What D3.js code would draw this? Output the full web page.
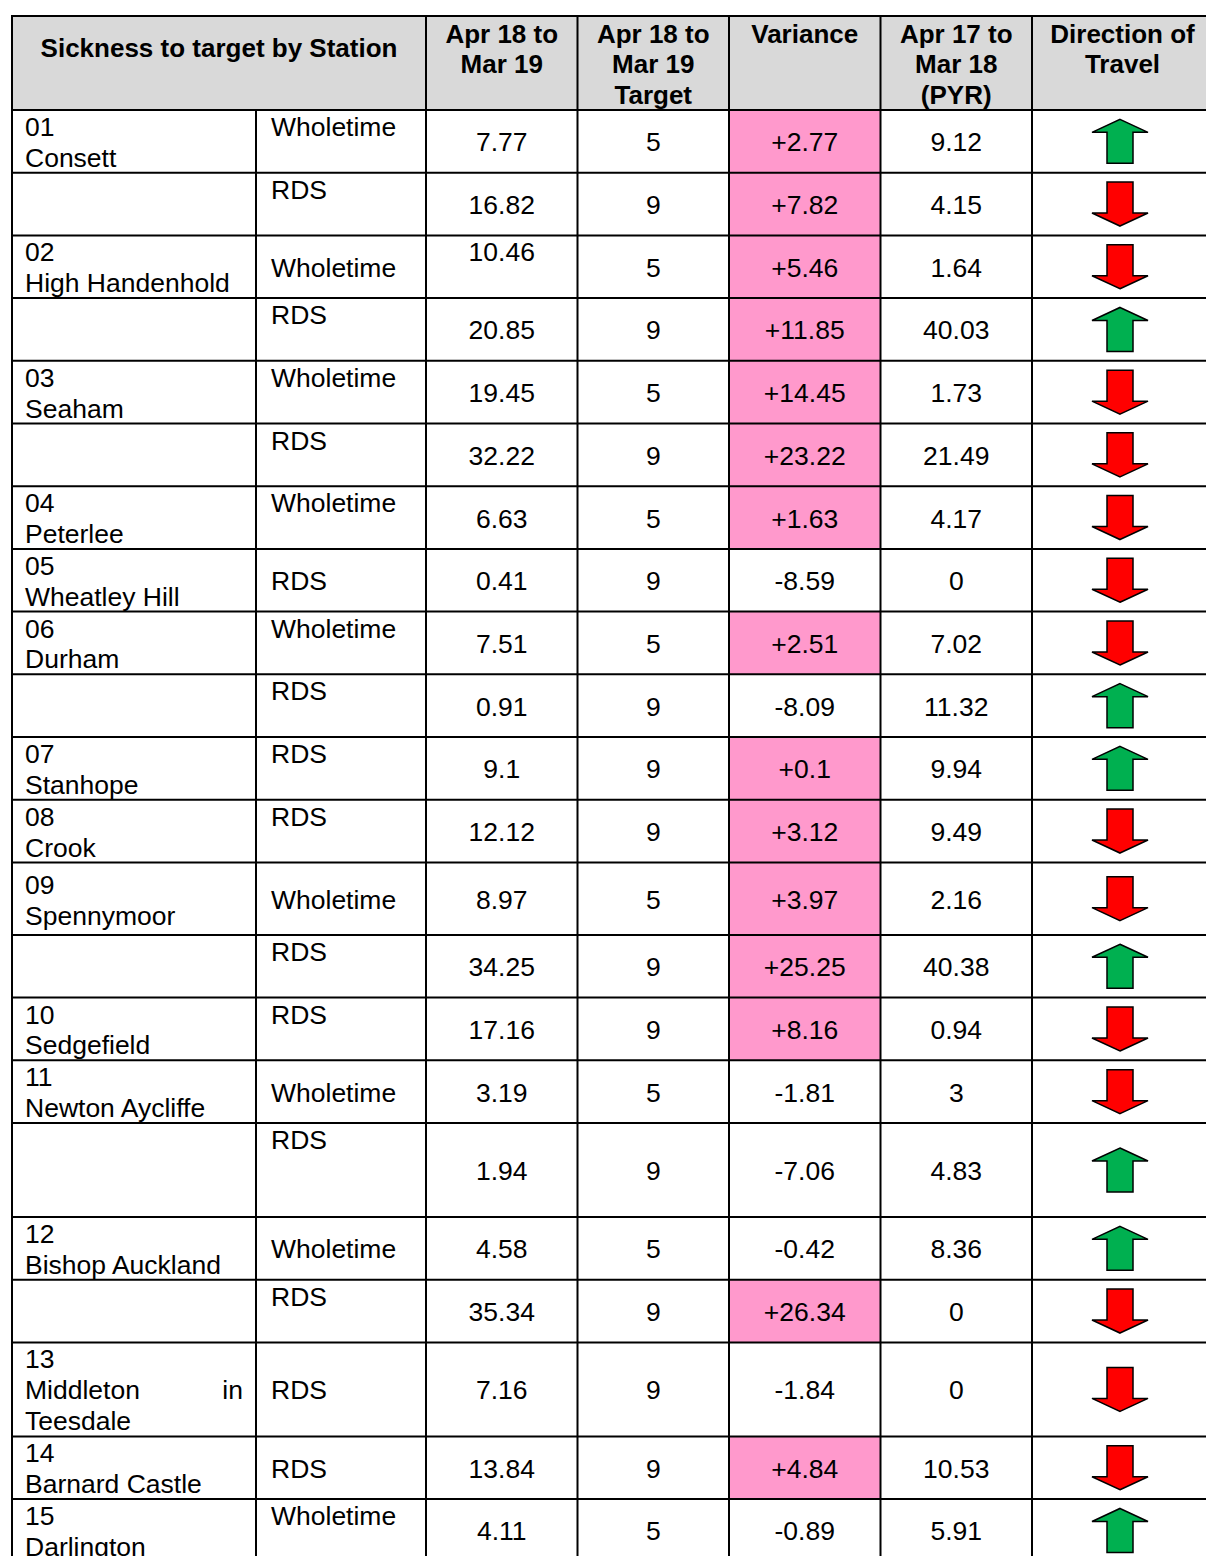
<!DOCTYPE html>
<html lang="en">
<head>
<meta charset="UTF-8">
<title>Sickness to target by Station</title>
<script src="https://d3js.org/d3.v7.min.js"></script>
<style>
  body { margin: 0; background: #fff; }
  svg text { font-family: "Liberation Sans", Arial, sans-serif; fill: #000; }
  .head { font-weight: bold; font-size: 26px; }
  .cell { font-size: 26.5px; }
</style>
</head>
<body>
<svg id="tbl" width="1206" height="1556"></svg>
<script>
// one entry per table row
const stationNo = ["01","","02","","03","","04","05","06","","07","08","09","","10","11","","12","","13","14","15"];
const stationName = ["Consett","","High Handenhold","","Seaham","","Peterlee","Wheatley Hill","Durham","",
  "Stanhope","Crook","Spennymoor","","Sedgefield","Newton Aycliffe","","Bishop Auckland","",
  "Middleton in Teesdale","Barnard Castle","Darlington"];
const dutyType = ["Wholetime","RDS","Wholetime","RDS","Wholetime","RDS","Wholetime","RDS","Wholetime","RDS",
  "RDS","RDS","Wholetime","RDS","RDS","Wholetime","RDS","Wholetime","RDS","RDS","RDS","Wholetime"];
const actual = [7.77,16.82,10.46,20.85,19.45,32.22,6.63,0.41,7.51,0.91,9.1,12.12,8.97,34.25,17.16,3.19,1.94,4.58,35.34,7.16,13.84,4.11];
const target = [5,9,5,9,5,9,5,9,5,9,9,9,5,9,9,5,9,5,9,9,9,5];
const variance = [2.77,7.82,5.46,11.85,14.45,23.22,1.63,-8.59,2.51,-8.09,0.1,3.12,3.97,25.25,8.16,-1.81,-7.06,-0.42,26.34,-1.84,4.84,-0.89];
const previous = [9.12,4.15,1.64,40.03,1.73,21.49,4.17,0,7.02,11.32,9.94,9.49,2.16,40.38,0.94,3,4.83,8.36,0,0,10.53,5.91];

const headers = [
  ["Apr 18 to","Mar 19"],
  ["Apr 18 to","Mar 19","Target"],
  ["Variance"],
  ["Apr 17 to","Mar 18","(PYR)"],
  ["Direction of","Travel"]
];

// layout
const svg = d3.select("#tbl");
const tableTop = 16, headBottom = 110, xLeft = 12, xType = 256, xRight = 1213;
const baseRow = 62.7, lineGap = 30.8;
const tallRows = {12: 72.5, 16: 94, 19: 94};
const typeMiddle = new Set([2,7,12,15,17,19,20]);   // Word cells that were vertically centred
const nameMiddle = new Set([12]);

const heights = dutyType.map((d,i) => tallRows[i] || baseRow);
const tops = [headBottom].concat(Array.from(d3.cumsum(heights), h => headBottom + h));

const numCols = ["actual","target","variance","previous"];
const xNum = d3.scaleBand().domain(numCols).range([426, 1032]).padding(0);
const bw = xNum.bandwidth();
const dirX = [1032, xRight];

const rows = dutyType.map((t,i) => ({
  i, no: stationNo[i], name: stationName[i], type: t,
  actual: actual[i], target: target[i], variance: variance[i], previous: previous[i],
  top: tops[i], h: heights[i]
}));

// header band
svg.append("rect").attr("x", xLeft).attr("y", tableTop)
  .attr("width", xRight - xLeft).attr("height", headBottom - tableTop)
  .attr("fill", "#d9d9d9");

// pink variance cells
svg.selectAll("rect.over").data(rows.filter(d => d.variance > 0)).join("rect")
  .attr("class", "over")
  .attr("x", xNum("variance")).attr("y", d => d.top)
  .attr("width", bw).attr("height", d => d.h)
  .attr("fill", "#ff99cc");

// header text
svg.append("text").attr("class","head")
  .attr("x", (xLeft + 426) / 2).attr("y", 57)
  .attr("text-anchor","middle")
  .text("Sickness to target by Station");

const headCx = numCols.map(c => xNum(c) + bw / 2).concat([(dirX[0] + dirX[1]) / 2]);
headers.forEach((lines, c) => {
  lines.forEach((ln, k) => {
    svg.append("text").attr("class","head")
      .attr("x", headCx[c]).attr("y", 42.5 + k * lineGap)
      .attr("text-anchor","middle").text(ln);
  });
});

// station names with word wrap + justify like Word
const nameWidth = 218, nameX = 25;
function wrap(words) {
  const probe = svg.append("text").attr("class","cell");
  const lines = [];
  let cur = [];
  words.forEach(w => {
    const test = cur.concat([w]).join(" ");
    probe.text(test);
    if (cur.length && probe.node().getComputedTextLength() > nameWidth) {
      lines.push(cur); cur = [w];
    } else cur.push(w);
  });
  if (cur.length) lines.push(cur);
  const widths = lines.map(l => l.map(w => { probe.text(w); return probe.node().getComputedTextLength(); }));
  probe.remove();
  return lines.map((l,k) => ({words: l, widths: widths[k], justify: k < lines.length - 1 && l.length > 1}));
}

rows.forEach(d => {
  if (!d.no) return;
  const nameLines = wrap(d.name.split(" "));
  const nLines = 1 + nameLines.length;
  const y0 = nameMiddle.has(d.i) ? d.top + (d.h - nLines * lineGap) / 2 + 26 : d.top + 26;
  svg.append("text").attr("class","cell").attr("x", nameX).attr("y", y0).text(d.no);
  nameLines.forEach((ln, k) => {
    const y = y0 + (k + 1) * lineGap;
    if (ln.justify) {
      const gap = (nameWidth - d3.sum(ln.widths)) / (ln.words.length - 1);
      let x = nameX;
      ln.words.forEach((w, j) => {
        svg.append("text").attr("class","cell").attr("x", x).attr("y", y).text(w);
        x += ln.widths[j] + gap;
      });
    } else {
      svg.append("text").attr("class","cell").attr("x", nameX).attr("y", y).text(ln.words.join(" "));
    }
  });
});

// duty type
svg.selectAll("text.type").data(rows).join("text")
  .attr("class","cell type")
  .attr("x", 271)
  .attr("y", d => typeMiddle.has(d.i) ? d.top + d.h / 2 + 10 : d.top + 26)
  .text(d => d.type);

// numbers
const fmt = {
  actual: v => String(v),
  target: v => String(v),
  variance: v => (v > 0 ? "+" : "") + String(v),
  previous: v => String(v)
};
numCols.forEach(c => {
  svg.selectAll("text.n-" + c).data(rows).join("text")
    .attr("class","cell n-" + c)
    .attr("x", xNum(c) + bw / 2)
    .attr("y", d => (c === "actual" && d.i === 2) ? d.top + 26 : d.top + d.h / 2 + 10)
    .attr("text-anchor","middle")
    .text(d => fmt[c](d[c]));
});

// direction arrows: green up when lower than previous year, red down otherwise
const aw = 56, ah = 44, headH = 13, shaftW = 26;
const arrowCx = 1120;
function arrowPts(cx, cy, up) {
  const s = up ? 1 : -1;
  const tip = cy - s * ah / 2, base = cy + s * ah / 2, neck = tip + s * headH;
  return [[cx, tip], [cx + aw / 2, neck], [cx + shaftW / 2, neck], [cx + shaftW / 2, base],
          [cx - shaftW / 2, base], [cx - shaftW / 2, neck], [cx - aw / 2, neck]];
}
svg.selectAll("polygon.arrow").data(rows).join("polygon")
  .attr("class","arrow")
  .attr("points", d => arrowPts(arrowCx, d.top + d.h / 2, d.actual < d.previous).map(p => p.join(",")).join(" "))
  .attr("fill", d => d.actual < d.previous ? "#00b050" : "#ff0000")
  .attr("stroke", "#000")
  .attr("stroke-width", 1.5)
  .attr("stroke-linejoin", "miter");

// grid lines
const bottom = tops[tops.length - 1];
const hLines = [tableTop].concat(tops);
svg.selectAll("line.h").data(hLines).join("line")
  .attr("class","h")
  .attr("x1", xLeft - 1).attr("x2", xRight)
  .attr("y1", d => d).attr("y2", d => d)
  .attr("stroke", "#000").attr("stroke-width", 2);

const vFull = [xLeft].concat(numCols.map(c => xNum(c)), [dirX[0]]);
svg.selectAll("line.v").data(vFull).join("line")
  .attr("class","v")
  .attr("x1", d => d).attr("x2", d => d)
  .attr("y1", tableTop - 1).attr("y2", bottom)
  .attr("stroke", "#000").attr("stroke-width", 2);

svg.append("line")
  .attr("x1", xType).attr("x2", xType)
  .attr("y1", headBottom).attr("y2", bottom)
  .attr("stroke", "#000").attr("stroke-width", 2);
</script>
</body>
</html>
